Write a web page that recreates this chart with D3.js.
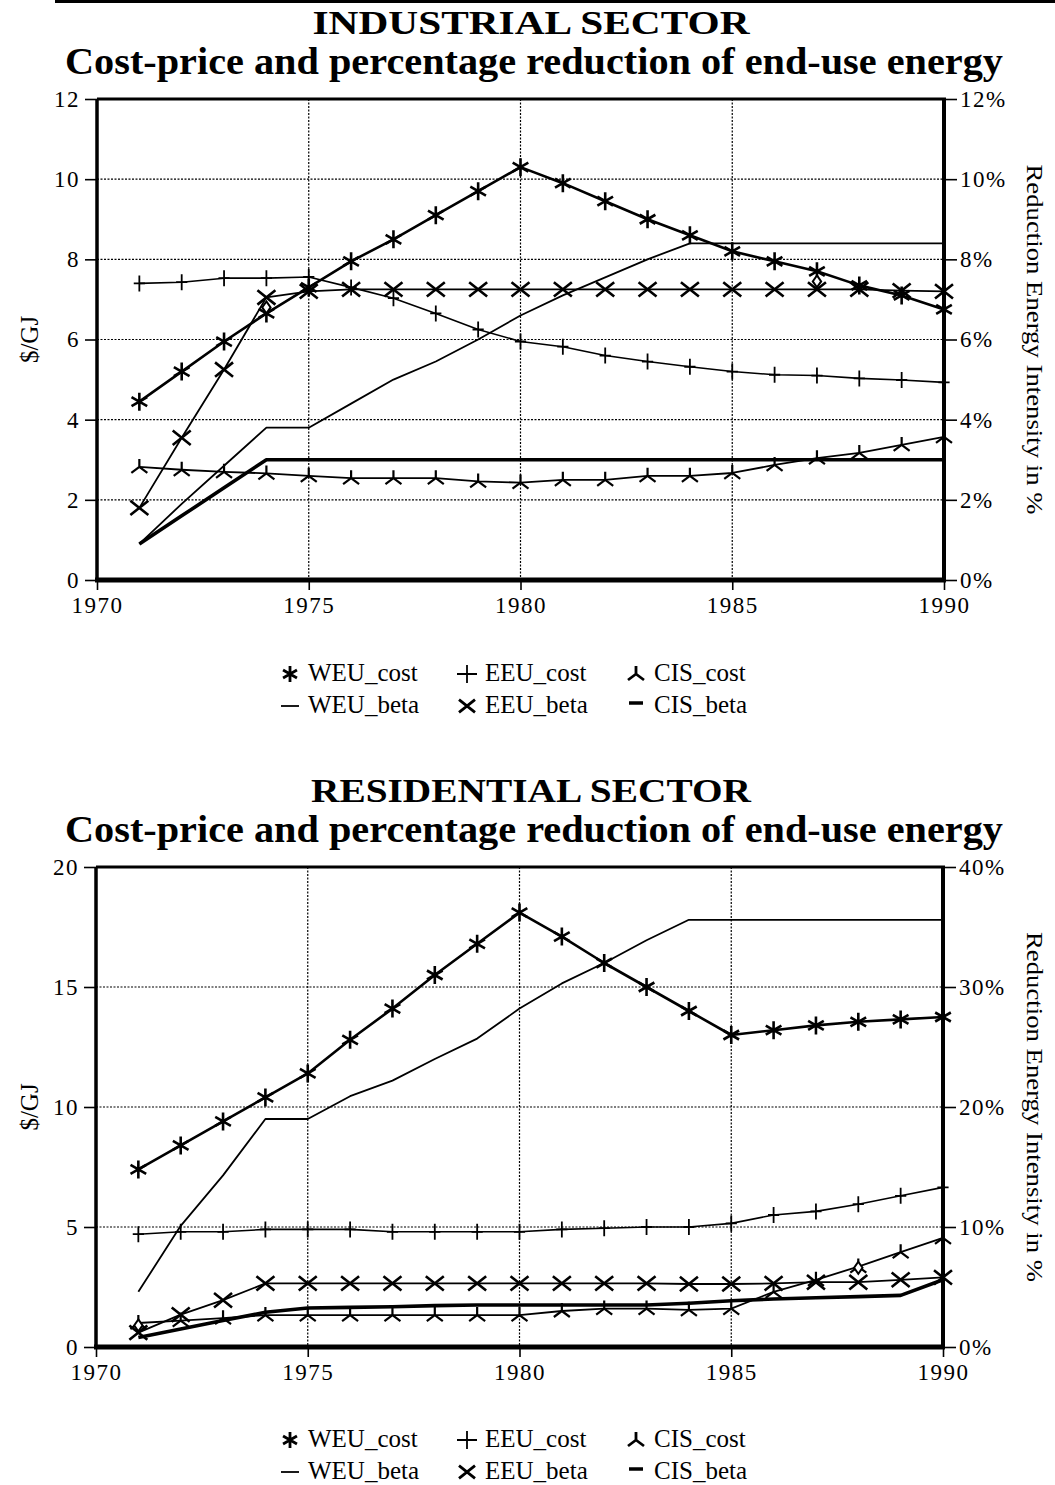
<!DOCTYPE html>
<html>
<head>
<meta charset="utf-8">
<script src="https://cdn.jsdelivr.net/npm/d3@7"></script>
<style>
  body { margin: 0; background: #fff; }
  svg { display: block; }
  text { font-family: "Liberation Serif", "Times New Roman", serif; fill: #000; }
</style>
</head>
<body>
<svg id="fig" width="1055" height="1485"></svg>
<script>
// --- data -------------------------------------------------------------
const years = [1971,1972,1973,1974,1975,1976,1977,1978,1979,1980,
               1981,1982,1983,1984,1985,1986,1987,1988,1989,1990];
const yearTicks = [1970, 1975, 1980, 1985, 1990];
const seriesNames = ['WEU_cost','EEU_cost','CIS_cost','WEU_beta','EEU_beta','CIS_beta'];

// industrial sector: cost in $/GJ (left), beta in % (right)
const indWeuCost = [4.45,5.2,5.95,6.65,7.3,7.95,8.5,9.1,9.7,10.3,9.9,9.45,9.0,8.6,8.2,7.95,7.7,7.35,7.1,6.75];
const indEeuCost = [7.4,7.43,7.53,7.53,7.56,7.3,7.03,6.65,6.25,5.95,5.82,5.6,5.45,5.32,5.2,5.12,5.1,5.03,4.99,4.93];
const indCisCost = [2.82,2.75,2.7,2.66,2.6,2.54,2.54,2.54,2.46,2.43,2.5,2.5,2.6,2.6,2.67,2.87,3.04,3.17,3.37,3.57];
const indWeuBeta = [0.9,1.9,2.85,3.8,3.8,4.4,5.0,5.45,6.0,6.6,7.1,7.55,8.0,8.4,8.4,8.4,8.4,8.4,8.4,8.4];
const indEeuBeta = [1.8,3.55,5.25,7.05,7.2,7.25,7.25,7.25,7.25,7.25,7.25,7.25,7.25,7.25,7.25,7.25,7.25,7.25,7.22,7.2];
const indCisBeta = [0.9,1.6,2.3,3.0,3.0,3.0,3.0,3.0,3.0,3.0,3.0,3.0,3.0,3.0,3.0,3.0,3.0,3.0,3.0,3.0];
const indDiamondYears = [1974, 1987];
const indDiamondValues = [6.8, 7.45];
const indLeftTicks = [0,2,4,6,8,10,12];
const indRightTicks = [0,2,4,6,8,10,12];

// residential sector
const resWeuCost = [7.4,8.4,9.4,10.4,11.4,12.8,14.1,15.5,16.8,18.1,17.1,16.0,15.0,14.0,13.0,13.2,13.4,13.55,13.65,13.75];
const resEeuCost = [4.7,4.8,4.8,4.9,4.9,4.9,4.8,4.8,4.8,4.8,4.9,4.95,5.0,5.0,5.15,5.5,5.65,5.95,6.3,6.65];
const resCisCost = [1.0,1.1,1.2,1.33,1.33,1.33,1.33,1.33,1.33,1.33,1.5,1.6,1.6,1.55,1.6,2.3,2.8,3.35,3.95,4.55];
const resWeuBeta = [4.6,10.1,14.3,19.0,19.0,20.9,22.2,24.0,25.7,28.2,30.3,32.0,33.9,35.6,35.6,35.6,35.6,35.6,35.6,35.6];
const resEeuBeta = [1.2,2.7,3.9,5.3,5.3,5.3,5.3,5.3,5.3,5.3,5.3,5.3,5.3,5.25,5.25,5.3,5.4,5.4,5.6,5.8];
const resCisBeta = [0.8,1.5,2.2,2.9,3.25,3.3,3.35,3.45,3.5,3.5,3.5,3.5,3.5,3.65,3.85,4.0,4.1,4.2,4.3,5.6];
const resDiamondYears = [1971, 1988];
const resDiamondValues = [0.9, 3.3];
const resLeftTicks = [0,5,10,15,20];
const resRightTicks = [0,10,20,30,40];

// --- drawing ----------------------------------------------------------
const svg = d3.select('#fig');

// marker shapes, centred on 0,0
const symbolPath = {
  asterisk: r => `M0,${-r}V${r}M${-r*0.87},${-r/2}L${r*0.87},${r/2}M${-r*0.87},${r/2}L${r*0.87},${-r/2}`,
  plus: r => `M0,${-r}V${r}M${-r*0.7},0H${r*0.7}`,
  cross: r => `M${-r},${-r*0.8}L${r},${r*0.8}M${-r},${r*0.8}L${r},${-r*0.8}`,
  tristar: r => `M0,0V${-r}M0,0L${-r},${r*0.75}M0,0L${r},${r*0.75}`,
  diamond: r => `M0,${-r}L${r*0.7},0L0,${r}L${-r*0.7},0Z`
};

// line + marker look of each series (styling only)
const seriesStyle = {
  WEU_cost: { axis: 'left',  width: 2.6, marker: 'asterisk', mr: 9, mw: 2.6 },
  EEU_cost: { axis: 'left',  width: 1.6, marker: 'plus',     mr: 8, mw: 1.8 },
  CIS_cost: { axis: 'left',  width: 1.8, marker: 'tristar',  mr: 8, mw: 2.2 },
  WEU_beta: { axis: 'right', width: 1.8, marker: null },
  EEU_beta: { axis: 'right', width: 1.8, marker: 'cross',    mr: 9, mw: 2.6 },
  CIS_beta: { axis: 'right', width: 3.6, marker: null }
};

function drawChart(o){
  const g = svg.append('g');
  const x = d3.scaleLinear().domain([1970, 1990]).range([o.left, o.right]);
  const y = d3.scaleLinear().domain([0, d3.max(o.leftTicks)]).range([o.bottom, o.top]);
  const y2 = d3.scaleLinear().domain([0, d3.max(o.rightTicks)]).range([o.bottom, o.top]);

  // titles
  g.append('text').attr('x', 531).attr('y', o.titleY)
    .attr('text-anchor','middle').attr('font-size', 34).attr('font-weight','bold')
    .attr('textLength', o.title1Len).attr('lengthAdjust','spacingAndGlyphs')
    .text(o.title1);
  g.append('text').attr('x', 534).attr('y', o.titleY + 40)
    .attr('text-anchor','middle').attr('font-size', 38).attr('font-weight','bold')
    .attr('textLength', 938).attr('lengthAdjust','spacingAndGlyphs')
    .text('Cost-price and percentage reduction of end-use energy');

  // dotted grid
  const grid = g.append('g').attr('stroke','#000').attr('stroke-width',1.2)
    .attr('stroke-dasharray','2,1.5');
  grid.selectAll('.h').data(o.leftTicks.slice(1, -1)).enter().append('line')
    .attr('x1', o.left).attr('x2', o.right)
    .attr('y1', d => y(d)).attr('y2', d => y(d));
  grid.selectAll('.v').data(yearTicks.slice(1, -1)).enter().append('line')
    .attr('y1', o.top).attr('y2', o.bottom)
    .attr('x1', d => x(d)).attr('x2', d => x(d));

  // axes
  const axL = g.append('g').attr('transform', `translate(${o.left},0)`)
    .call(d3.axisLeft(y).tickValues(o.leftTicks).tickSize(12).tickPadding(5));
  const axR = g.append('g').attr('transform', `translate(${o.right},0)`)
    .call(d3.axisRight(y2).tickValues(o.rightTicks).tickSize(13).tickPadding(3)
      .tickFormat(d => d + '%'));
  const axB = g.append('g').attr('transform', `translate(0,${o.bottom})`)
    .call(d3.axisBottom(x).tickValues(yearTicks).tickSize(10).tickPadding(7)
      .tickFormat(d3.format('d')));
  [axL, axR, axB].forEach(a => {
    a.select('.domain').remove();
    a.selectAll('.tick line').attr('stroke','#000').attr('stroke-width',1.6);
    a.selectAll('.tick text').attr('font-size', 23)
      .attr('font-family','"Liberation Serif", serif').attr('letter-spacing', 1.5);
  });

  // axis titles
  g.append('text').attr('transform', `translate(38,${(o.top+o.bottom)/2}) rotate(-90)`)
    .attr('text-anchor','middle').attr('font-size', 25).text('$/GJ');
  g.append('text').attr('transform', `translate(1027,${(o.top+o.bottom)/2}) rotate(90)`)
    .attr('text-anchor','middle').attr('font-size', 24).attr('textLength', 350)
    .attr('lengthAdjust','spacingAndGlyphs').text('Reduction Energy Intensity in %');

  // series
  const plot = g.append('g');
  o.series.forEach(s => {
    const st = seriesStyle[s.name];
    const ys = st.axis === 'left' ? y : y2;
    const pts = years.map((yr, i) => [x(yr), ys(s.values[i])]);
    plot.append('path').datum(pts)
      .attr('d', d3.line()).attr('fill','none').attr('stroke','#000')
      .attr('stroke-width', st.width).attr('stroke-linejoin','round');
    if (st.marker){
      plot.selectAll(null).data(pts).enter().append('path')
        .attr('transform', d => `translate(${d[0]},${d[1]})`)
        .attr('d', symbolPath[st.marker](st.mr))
        .attr('fill','none').attr('stroke','#000').attr('stroke-width', st.mw);
    }
  });
  plot.selectAll('.dm').data(o.diamondYears).enter().append('path')
    .attr('transform', (d, i) => `translate(${x(d)},${y(o.diamondValues[i])})`)
    .attr('d', symbolPath.diamond(6)).attr('fill','#fff')
    .attr('stroke','#000').attr('stroke-width', 2);

  // frame
  const fr = g.append('g').attr('stroke','#000');
  fr.append('line').attr('x1', o.left).attr('x2', o.right + 2).attr('y1', o.top).attr('y2', o.top).attr('stroke-width', 3);
  fr.append('line').attr('x1', o.left).attr('x2', o.left).attr('y1', o.top).attr('y2', o.bottom).attr('stroke-width', 3.5);
  fr.append('line').attr('x1', o.right).attr('x2', o.right).attr('y1', o.top).attr('y2', o.bottom).attr('stroke-width', 4);
  fr.append('line').attr('x1', o.left - 2).attr('x2', o.right + 2).attr('y1', o.bottom).attr('y2', o.bottom).attr('stroke-width', 5);

  // legend
  const lg = g.append('g');
  const cols = [290, 467, 636];
  seriesNames.forEach((name, i) => {
    const st = seriesStyle[name];
    const cx = cols[i % 3], cy = o.legendY + Math.floor(i / 3) * 32;
    let d, sw;
    if (name === 'WEU_beta'){ d = 'M-9,0H9'; sw = 1.8; }
    else if (name === 'CIS_beta'){ d = 'M-7,-3H7'; sw = 3.5; }
    else if (name === 'EEU_cost'){ d = 'M0,-9V9M-10,0H10'; sw = 1.8; }
    else { d = symbolPath[st.marker](8); sw = 2.8; }
    lg.append('path').attr('transform', `translate(${cx},${cy - 7})`).attr('d', d)
      .attr('fill','none').attr('stroke','#000').attr('stroke-width', sw);
    lg.append('text').attr('x', cx + 18).attr('y', cy).attr('font-size', 25).text(name);
  });
}

// rule line at the very top of the page
svg.append('line').attr('x1', 55).attr('x2', 1055).attr('y1', 1.5).attr('y2', 1.5)
  .attr('stroke','#000').attr('stroke-width', 3);

drawChart({
  left: 97, right: 944, top: 99, bottom: 580,
  title1: 'INDUSTRIAL SECTOR', title1Len: 437, titleY: 34, legendY: 681,
  leftTicks: indLeftTicks, rightTicks: indRightTicks,
  diamondYears: indDiamondYears, diamondValues: indDiamondValues,
  series: [
    { name: 'WEU_beta', values: indWeuBeta },
    { name: 'CIS_beta', values: indCisBeta },
    { name: 'EEU_beta', values: indEeuBeta },
    { name: 'CIS_cost', values: indCisCost },
    { name: 'EEU_cost', values: indEeuCost },
    { name: 'WEU_cost', values: indWeuCost }
  ]
});

drawChart({
  left: 96, right: 943, top: 867, bottom: 1347,
  title1: 'RESIDENTIAL SECTOR', title1Len: 440, titleY: 802, legendY: 1447,
  leftTicks: resLeftTicks, rightTicks: resRightTicks,
  diamondYears: resDiamondYears, diamondValues: resDiamondValues,
  series: [
    { name: 'WEU_beta', values: resWeuBeta },
    { name: 'CIS_beta', values: resCisBeta },
    { name: 'EEU_beta', values: resEeuBeta },
    { name: 'CIS_cost', values: resCisCost },
    { name: 'EEU_cost', values: resEeuCost },
    { name: 'WEU_cost', values: resWeuCost }
  ]
});
</script>
</body>
</html>
